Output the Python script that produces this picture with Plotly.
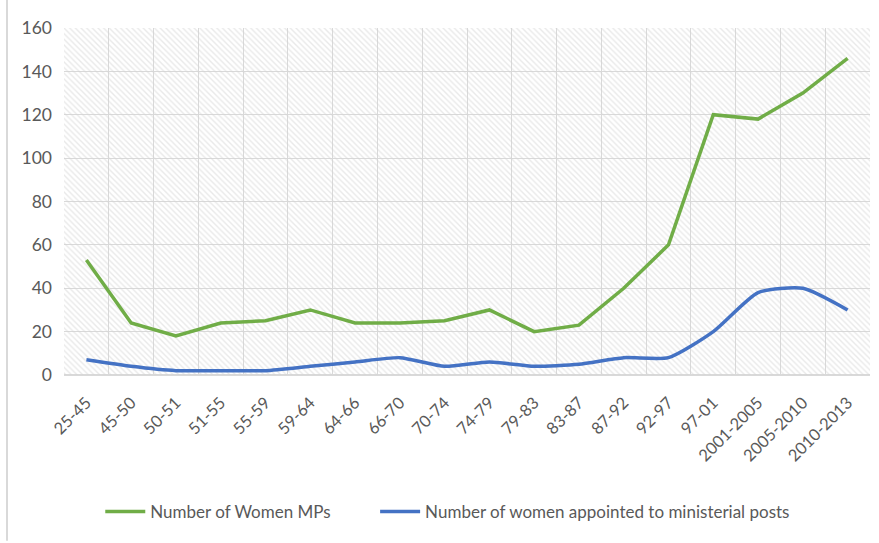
import plotly.graph_objects as go

periods = ["25-45", "45-50", "50-51", "51-55", "55-59", "59-64", "64-66", "66-70", "70-74",
           "74-79", "79-83", "83-87", "87-92", "92-97", "97-01", "2001-2005", "2005-2010", "2010-2013"]
women_mps = [53, 24, 18, 24, 25, 30, 24, 24, 25, 30, 20, 23, 40, 60, 120, 118, 130, 146]
women_ministers = [7, 4, 2, 2, 2, 4, 6, 8, 4, 6, 4, 5, 8, 8, 20, 38, 40, 30]
y_ticks = [0, 20, 40, 60, 80, 100, 120, 140, 160]
y_max = 160

FONT = "Lato"
TXT = "#595959"
GRID = "#d9d9d9"

fig = go.Figure()

# hatched plot-area background
fig.add_trace(go.Bar(
    x=periods, y=[y_max] * len(periods), width=1,
    marker=dict(color="rgba(0,0,0,0)", line=dict(width=0),
                pattern=dict(shape="\\", fgcolor="#d4d4d4", bgcolor="rgba(0,0,0,0)",
                             size=4, solidity=0.35)),
    hoverinfo="skip", showlegend=False))

fig.add_trace(go.Scatter(
    x=periods, y=women_mps, mode="lines", name="Number of Women MPs",
    line=dict(color="#70ad47", width=3.5), legend="legend"))
fig.add_trace(go.Scatter(
    x=periods, y=women_ministers, mode="lines",
    name="Number of women appointed to ministerial posts",
    line=dict(color="#4472c4", width=3.5, shape="spline", smoothing=0.6),
    legend="legend2"))

leg_common = dict(orientation="h", xanchor="left", y=-0.395, yanchor="middle",
                  font=dict(size=17, color=TXT, family=FONT), itemwidth=40,
                  bgcolor="rgba(0,0,0,0)")

fig.update_layout(
    width=879, height=543,
    margin=dict(l=64, r=9, t=28, b=168),
    paper_bgcolor="white", plot_bgcolor="white",
    font=dict(family=FONT, color=TXT, size=17),
    bargap=0,
    showlegend=True,
    legend=dict(x=0.045, **leg_common),
    legend2=dict(x=0.386, **leg_common),
    xaxis=dict(type="category", tickangle=-45, tickson="boundaries",
               showgrid=True, gridcolor=GRID, gridwidth=1, ticks="",
               showline=False, zeroline=False, range=[-0.5, len(periods) - 0.5],
               tickfont=dict(size=16.5, color=TXT), ticklabelstandoff=14),
    yaxis=dict(range=[0, y_max], tickvals=y_ticks, showgrid=True, gridcolor=GRID,
               gridwidth=1, zeroline=True, zerolinecolor=GRID, ticks="",
               tickfont=dict(size=17.5, color=TXT), ticklabelstandoff=11),
    shapes=[
        dict(type="line", xref="paper", yref="paper", x0=-0.0707, x1=-0.0707,
             y0=-0.478, y1=1.09, line=dict(color="#d9d9d9", width=2)),
    ],
)

fig.write_html("out.html")
